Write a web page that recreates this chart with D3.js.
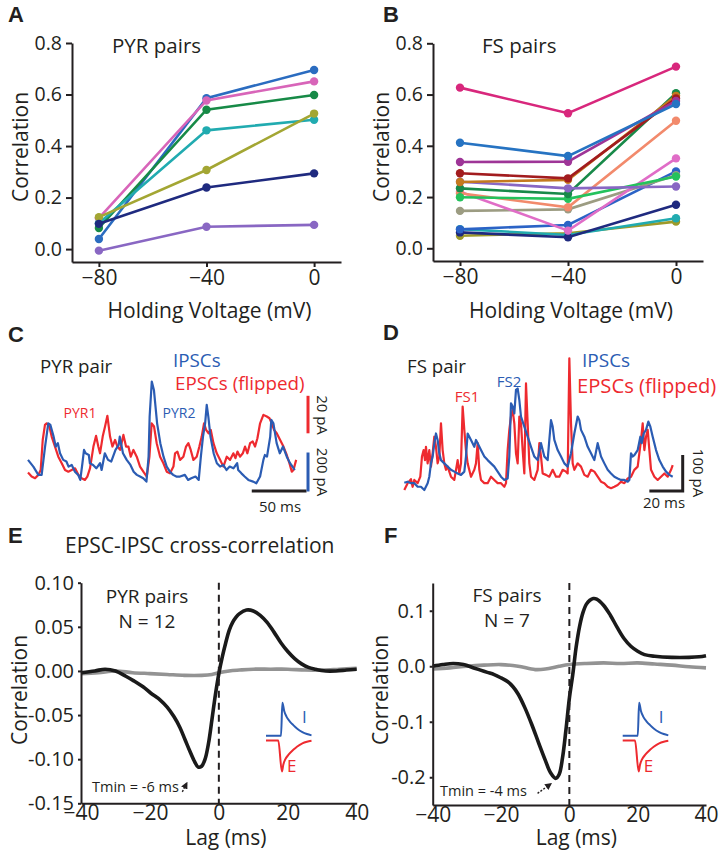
<!DOCTYPE html>
<html><head><meta charset="utf-8">
<script src="https://cdn.jsdelivr.net/npm/d3@7"></script>
<style>body{margin:0;background:#fff}svg{display:block}</style>
</head><body>
<script>
// ---------------- DATA ----------------
const voltages = [-80, -40, 0];
const pyrPairs = [
  [0.039, 0.586, 0.695],
  [0.120, 0.577, 0.651],
  [0.082, 0.541, 0.598],
  [0.100, 0.461, 0.502],
  [0.124, 0.307, 0.526],
  [0.098, 0.239, 0.294],
  [-0.006, 0.087, 0.094]
];
const pyrColors = ["#2b6cc0","#d865b9","#178a47","#21abb0","#a3a633","#1f2a7f","#8967c3"];
const fsPairs = [
  [0.049, 0.059, 0.104],
  [0.075, 0.052, 0.117],
  [0.062, 0.043, 0.170],
  [0.074, 0.091, 0.300],
  [0.146, 0.152, 0.285],
  [0.221, 0.069, 0.351],
  [0.215, 0.160, 0.498],
  [0.199, 0.193, 0.280],
  [0.234, 0.212, 0.605],
  [0.260, 0.234, 0.241],
  [0.259, 0.267, 0.595],
  [0.293, 0.273, 0.585],
  [0.337, 0.338, 0.575],
  [0.412, 0.360, 0.563],
  [0.627, 0.527, 0.709]
];
const fsColors = ["#9d9a2a","#21abb0","#1f2a7f","#2b63c6","#9c9c82","#e06dc7","#f28a6c","#24c25c","#188a49","#8967c3","#c4791f","#a21c1f","#9e3597","#2673c2","#d8277c"];
const corrTicks = [0, 0.2, 0.4, 0.6, 0.8];

// Panel C traces: [time ms, current pA]
const cIPSC = [[0,125],[5,89],[9.7,45],[12.8,45],[16,196],[19,320],[21,311],[24,249],[26,196],[28,214],[30,160],[33,125],[36,116],[38,89],[41,98],[44,62],[47,45],[49,18],[51,107],[52.5,178],[54,160],[57,151],[58,107],[61,98],[64,80],[67.5,107],[69,71],[72,160],[75,125],[78,116],[82,178],[85,205],[86,249],[89,160],[92.5,125],[96,98],[99,62],[102,45],[105,36],[108,27],[111,9],[113,142],[114,356],[116,543],[118,498],[121,320],[124,214],[127,142],[130,89],[133,62],[136,45],[139,36],[142.5,36],[147,45],[150,18],[153,27],[157,36],[160,18],[162,142],[164,249],[166,320],[167.5,418],[169,356],[171,249],[174,160],[177,107],[180,89],[183,98],[186,71],[189,89],[192.5,80],[196,107],[197,71],[200,53],[203,36],[206.5,18],[211,9],[214,0],[217.5,36],[220.6,125],[222,151],[224,142],[225,178],[227,249],[228,338],[230,320],[233,214],[236,160],[239,196],[242.5,142],[245.6,107],[249,80],[250,71]];
const cEPSC = [[0,5.7],[3.4,3.6],[6.6,2.7],[9.7,4.5],[11.9,7.1],[13.8,23.1],[15.9,31.2],[17.5,32.0],[20,30.3],[22.2,24.9],[25.3,19.6],[28.4,14.2],[31.6,10.7],[34.7,7.1],[37.8,6.2],[40.9,7.1],[44.1,8.0],[47.2,4.5],[50.3,2.7],[53.4,1.8],[55.6,3.6],[58.1,8.0],[61.3,19.6],[63.8,25.3],[65.9,19.6],[67.5,16.0],[70,24.9],[72.2,30.3],[74.4,36.0],[76.9,24.9],[79.1,19.6],[81.6,23.1],[83.8,19.6],[86.3,17.8],[89.4,25.8],[91.9,19.6],[94.1,19.6],[96.3,14.2],[98.8,17.8],[101.9,14.2],[105,8.9],[108.1,6.2],[111.3,3.6],[113.8,14.2],[115.9,32.0],[118.1,30.3],[120.6,21.4],[123.8,14.2],[126.9,10.7],[130,6.2],[133.1,5.3],[136.3,8.9],[137.8,16.0],[140,16.9],[142.5,12.5],[145.6,14.2],[148.1,19.6],[150.3,21.4],[152.5,17.8],[155,12.5],[158.1,14.2],[160.6,19.6],[162.8,24.9],[165,32.0],[166.9,28.5],[169.1,26.7],[171.3,28.5],[173.8,21.4],[176.9,16.0],[180,12.5],[183.1,8.9],[186.3,14.2],[189.4,12.5],[192.5,16.0],[194.4,13.4],[196.3,16.9],[198.8,14.2],[201.3,16.0],[203.4,19.6],[205.6,16.0],[208.1,21.4],[210.6,22.3],[212.8,19.6],[215,24.0],[217.5,32.0],[220.6,36.5],[223.8,35.6],[226.3,34.7],[228.4,32.0],[230.6,28.5],[233.1,26.7],[236.3,23.1],[239.4,19.6],[242.5,15.1],[245,10.7],[247.2,6.2],[248.8,7.1],[251.3,12.5]];

// Panel D traces: [time ms, current pA]
const dIPSC = [[0,20],[2,23],[4,19],[6,19],[8,9],[10,9],[12,0],[14,19],[15,37],[16,74],[17,93],[18,130],[19,157],[20,139],[21,102],[22,83],[24,74],[26,65],[28,56],[30,51],[32,46],[34,42],[36,51],[37,93],[38,157],[40,139],[42,120],[43,139],[44,130],[46,111],[48,93],[50,83],[52,74],[54,65],[56,51],[58,37],[60,28],[62,32],[63,93],[64,241],[65,232],[66,213],[67,278],[68,282],[69,250],[70,204],[72,176],[74,148],[76,120],[78,93],[80,83],[82,130],[84,93],[86,83],[87,139],[88,194],[89,176],[90,139],[92,111],[94,93],[96,74],[98,65],[100,102],[102,157],[104,204],[105,194],[106,167],[108,148],[110,120],[112,102],[114,83],[116,130],[118,93],[120,74],[122,56],[124,46],[126,37],[128,32],[130,28],[132,28],[134,23],[135,28],[136,102],[137,93],[138,97],[140,111],[141.6,148],[142.4,130],[143.6,157],[145,167],[146.4,190],[147.6,176],[149,148],[151,111],[153,83],[155,65],[157,51],[159,42],[161,37]];
const dEPSC = [[0,0],[2,19],[4,30],[5,9],[6,28],[8,19],[9.6,37],[10.6,93],[11.6,111],[12.4,83],[13,120],[14,74],[15,111],[16,65],[17,102],[18,148],[19,120],[20,74],[21,93],[22,185],[23,111],[24,74],[25,56],[26,65],[28,37],[30,28],[32,83],[33,46],[34,74],[35,232],[36,167],[37,111],[38,74],[40,37],[42,56],[43,74],[44,130],[45,56],[46,28],[48,19],[50,19],[52,37],[54,28],[56,19],[58,19],[60,9],[61,19],[62,111],[63,167],[64,204],[65,222],[66,185],[67,102],[68,74],[69,204],[70,185],[71,111],[72,46],[73,296],[74,185],[75,74],[76,37],[78,28],[80,56],[81,130],[82,93],[83,46],[85,42],[87,37],[89,56],[91,37],[93,37],[95,56],[97,51],[98,46],[99,366],[100,185],[101,74],[102,56],[104,74],[106,65],[108,42],[110,37],[112,56],[114,51],[116,37],[118,23],[120,19],[122,9],[124,5],[126,9],[128,14],[130,23],[132,19],[134,32],[136,37],[138,56],[140,65],[142,139],[143,185],[144,111],[145,148],[146,167],[147,111],[148,56],[150,37],[152,28],[154,37],[156,46],[158,37],[160,56],[161,69]];

// Panel E / F cross-correlation: [lag ms, correlation]
const pyrXcorr = [[-40,-0.002],[-36,0.0],[-33,0.002],[-30,0.0],[-27,-0.006],[-24.8,-0.011],[-22,-0.018],[-19.8,-0.025],[-17,-0.033],[-15,-0.041],[-13,-0.052],[-11.3,-0.064],[-9.8,-0.078],[-8.4,-0.091],[-7,-0.103],[-6,-0.109],[-5,-0.108],[-4,-0.100],[-3,-0.082],[-2,-0.055],[-1,-0.027],[0,-0.003],[1,0.016],[2,0.032],[3,0.046],[4,0.055],[5,0.061],[6,0.065],[8,0.069],[10,0.068],[12,0.063],[14,0.055],[16,0.044],[18,0.032],[20,0.022],[22,0.014],[24,0.008],[26,0.004],[28,0.002],[31,0.0],[34,0.0],[37,0.001],[40,0.002]];
const pyrShuffled = [[-40,-0.003],[-35,-0.002],[-30,0.0],[-25,-0.002],[-20,-0.003],[-15,-0.004],[-10,-0.005],[-5,-0.005],[-2,-0.004],[0,-0.002],[3,0.0],[6,0.001],[10,0.002],[15,0.002],[20,0.002],[25,0.001],[30,0.001],[35,0.002],[40,0.003]];
const fsXcorr = [[-40,0.0],[-37,0.003],[-34,0.005],[-31,0.003],[-28,-0.003],[-26,-0.007],[-24,-0.011],[-22,-0.015],[-20,-0.021],[-18,-0.028],[-16.5,-0.037],[-15,-0.05],[-13,-0.075],[-11,-0.105],[-9,-0.138],[-7,-0.17],[-5.5,-0.192],[-4,-0.202],[-3,-0.195],[-2,-0.165],[-1,-0.115],[0,-0.058],[1,-0.015],[2,0.035],[3,0.072],[4,0.097],[5,0.112],[6,0.119],[7,0.122],[8,0.121],[10,0.11],[12,0.092],[14,0.07],[16,0.05],[18,0.036],[20,0.027],[22,0.021],[25,0.018],[30,0.016],[35,0.016],[38,0.017],[40,0.019]];
const fsShuffled = [[-40,-0.005],[-35,-0.003],[-30,0.0],[-25,0.002],[-20,0.003],[-15,0.0],[-10,-0.006],[-7,-0.005],[-3,0.0],[0,0.003],[5,0.005],[10,0.006],[15,0.005],[20,0.006],[25,0.004],[30,0.002],[35,-0.001],[40,-0.003]];
const pyrTmin = -6, fsTmin = -4;
const lagTicks = [-40, -20, 0, 20, 40];
const pyrCorrTicks = [-0.15, -0.10, -0.05, 0, 0.05, 0.10];
const fsCorrTicks = [-0.2, -0.1, 0, 0.1];

// inset schematic kernels: [relative time, relative amplitude]
const kernelI = [[0,0],[0.33,0],[0.36,1],[0.40,0.75],[0.45,0.58],[0.53,0.42],[0.60,0.32],[0.68,0.22],[0.80,0.11],[0.90,0.05],[1,0.01]];
const kernelE = [[0,0],[0.27,0],[0.35,-1],[0.38,-0.78],[0.42,-0.62],[0.50,-0.45],[0.60,-0.30],[0.68,-0.20],[0.80,-0.09],[0.90,-0.04],[1,-0.01]];

// ---------------- DRAWING ----------------
const FONT = "'Open Sans', sans-serif";
const INK = "#231f20";
const BLUE = "#2b5cb3";
const RED = "#ee2a2f";
const svg = d3.select("body").append("svg").attr("width", 722).attr("height", 853);
svg.append("rect").attr("width", 722).attr("height", 853).attr("fill", "#fff");

function text(x, y, s, size, opts = {}) {
  const t = svg.append("text").attr("x", x).attr("y", y).text(s)
    .attr("font-family", opts.family || FONT).attr("font-size", size)
    .attr("fill", opts.fill || INK).attr("text-anchor", opts.anchor || "start");
  if (opts.weight) t.attr("font-weight", opts.weight);
  if (opts.rotate) t.attr("transform", `rotate(${opts.rotate},${x},${y})`);
  return t;
}
function styleAxis(g, size) {
  g.attr("font-family", null).attr("font-size", null);
  g.select(".domain").attr("stroke", INK).attr("stroke-width", 2);
  g.selectAll(".tick line").attr("stroke", INK).attr("stroke-width", 2);
  g.selectAll(".tick text").attr("font-family", FONT).attr("font-size", size).attr("fill", INK);
}
const hyph = f => d => f(d).replace("\u2212", "-");

// Panel letters
const LF = "'Liberation Sans', Arial, sans-serif";
text(8, 22, "A", 22, {family: LF, weight: "bold"});
text(383, 22, "B", 22, {family: LF, weight: "bold"});
text(8, 342, "C", 22, {family: LF, weight: "bold"});
text(383, 340, "D", 22, {family: LF, weight: "bold"});
text(8, 543, "E", 22, {family: LF, weight: "bold"});
text(384, 543, "F", 22, {family: LF, weight: "bold"});

// ---- Panels A & B ----
function pairPanel(x0, x1, yBot, yZero, yTop, series, colors, title, titleX, labelX) {
  const x = d3.scaleLinear().domain([-90, 10]).range([x0, x1]);
  const y = d3.scaleLinear().domain([0, 0.8]).range([yZero, yTop]);
  y.domain([y.invert(yBot), 0.8]).range([yBot, yTop]);
  const line = d3.line().x((d, i) => x(voltages[i])).y(d => y(d));
  series.forEach((s, k) => {
    svg.append("path").attr("d", line(s)).attr("fill", "none")
      .attr("stroke", colors[k]).attr("stroke-width", 2.6);
    svg.selectAll(null).data(s).enter().append("circle")
      .attr("cx", (d, i) => x(voltages[i])).attr("cy", d => y(d)).attr("r", 4.2)
      .attr("fill", colors[k]);
  });
  const gy = svg.append("g").attr("transform", `translate(${x0},0)`)
    .call(d3.axisLeft(y).tickValues(corrTicks).tickFormat(d3.format(".1f")).tickSizeInner(6).tickSizeOuter(0).tickPadding(4));
  styleAxis(gy, 19.5);
  const gx = svg.append("g").attr("transform", `translate(0,${yBot})`)
    .call(d3.axisBottom(x).tickValues(voltages).tickSizeInner(5).tickSizeOuter(0).tickPadding(3));
  styleAxis(gx, 21);
  text(titleX, 53, title, 20.5);
  text((x0 + x1) / 2 + 3, 318, "Holding Voltage (mV)", 21, {anchor: "middle"});
  text(labelX, 147, "Correlation", 21, {anchor: "middle", rotate: -90});
}
pairPanel(72, 341, 262, 249.1, 43, pyrPairs, pyrColors, "PYR pairs", 112, 28);
pairPanel(433, 703, 261, 248.3, 43.3, fsPairs, fsColors, "FS pairs", 482, 389);

// ---- Panel C ----
{
  const x = d3.scaleLinear().domain([0, 252]).range([28, 296.9]);
  const yI = d3.scaleLinear().domain([0, 200]).range([483.3, 445.8]);
  const yE = d3.scaleLinear().domain([0, 20]).range([483.3, 445.8]);
  svg.append("path").attr("d", d3.line().x(d => x(d[0])).y(d => yE(d[1]))(cEPSC))
    .attr("fill", "none").attr("stroke", RED).attr("stroke-width", 2.2).attr("stroke-linejoin", "round");
  svg.append("path").attr("d", d3.line().x(d => x(d[0])).y(d => yI(d[1]))(cIPSC))
    .attr("fill", "none").attr("stroke", BLUE).attr("stroke-width", 2.2).attr("stroke-linejoin", "round");
  // scale bars
  const bx = x(259.6);
  svg.append("line").attr("x1", x(209.7)).attr("x2", x(259.6) + 1.5).attr("y1", 491).attr("y2", 491).attr("stroke", INK).attr("stroke-width", 3);
  svg.append("line").attr("x1", bx + 3).attr("x2", bx + 3).attr("y1", 491.5).attr("y2", 491.5 - (yI(0) - yI(200)) - 1.5).attr("stroke", BLUE).attr("stroke-width", 3);
  svg.append("line").attr("x1", bx + 3).attr("x2", bx + 3).attr("y1", 433.3).attr("y2", 433.3 - (yE(0) - yE(20))).attr("stroke", RED).attr("stroke-width", 3);
  text(317, 415, "20 pA", 15, {anchor: "middle", rotate: 90});
  text(317, 472, "200 pA", 15, {anchor: "middle", rotate: 90});
  text(280, 512, "50 ms", 15, {anchor: "middle"});
  text(40, 373, "PYR pair", 18.7);
  text(173, 367, "IPSCs", 18.8, {fill: BLUE});
  text(175, 390, "EPSCs (flipped)", 18.8, {fill: RED});
  text(80, 418, "PYR1", 14, {fill: RED, anchor: "middle"});
  text(179, 418, "PYR2", 14, {fill: BLUE, anchor: "middle"});
}

// ---- Panel D ----
{
  const x = d3.scaleLinear().domain([0, 161]).range([404.3, 672.7]);
  const y = d3.scaleLinear().domain([0, 100]).range([490, 454]);
  svg.append("path").attr("d", d3.line().x(d => x(d[0])).y(d => y(d[1]))(dEPSC))
    .attr("fill", "none").attr("stroke", RED).attr("stroke-width", 2.2).attr("stroke-linejoin", "round");
  svg.append("path").attr("d", d3.line().x(d => x(d[0])).y(d => y(d[1]))(dIPSC))
    .attr("fill", "none").attr("stroke", BLUE).attr("stroke-width", 2.2).attr("stroke-linejoin", "round");
  svg.append("path").attr("d", `M${x(147)},${491}H${x(167)}V${491 - (y(0) - y(100))}`)
    .attr("fill", "none").attr("stroke", INK).attr("stroke-width", 3);
  text(693, 473, "100 pA", 15, {anchor: "middle", rotate: 90});
  text(664, 508, "20 ms", 15, {anchor: "middle"});
  text(407, 373, "FS pair", 18.7);
  text(467, 401.7, "FS1", 15, {fill: RED, anchor: "middle"});
  text(509, 386.7, "FS2", 15, {fill: BLUE, anchor: "middle"});
  text(582, 366.7, "IPSCs", 19, {fill: BLUE});
  text(577, 392.5, "EPSCs (flipped)", 20.2, {fill: RED});
}

// ---- Panels E & F ----
svg.append("defs").append("marker").attr("id", "arr").attr("viewBox", "0 0 10 10")
  .attr("refX", 8).attr("refY", 5).attr("markerWidth", 5).attr("markerHeight", 5).attr("orient", "auto")
  .append("path").attr("d", "M0,0L10,5L0,10z").attr("fill", INK);

function xcorrPanel(o) {
  const x = d3.scaleLinear().domain([-40, 40]).range(o.xr);
  const y = d3.scaleLinear().domain(o.yd).range(o.yr);
  const line = d3.line().x(d => x(d[0])).y(d => y(d[1])).curve(d3.curveCatmullRom);
  svg.append("path").attr("d", line(o.shuf)).attr("fill", "none").attr("stroke", "#939393").attr("stroke-width", 3.6);
  svg.append("path").attr("d", line(o.data)).attr("fill", "none").attr("stroke", "#1a1a1a").attr("stroke-width", 3.6);
  svg.append("line").attr("x1", x(0)).attr("x2", x(0)).attr("y1", o.yr[1]).attr("y2", o.yr[0])
    .attr("stroke", INK).attr("stroke-width", 2).attr("stroke-dasharray", "7,5");
  const gy = svg.append("g").attr("transform", `translate(${o.xr[0]},0)`)
    .call(d3.axisLeft(y).tickValues(o.ticks).tickFormat(hyph(d3.format(o.fmt))).tickSizeInner(3).tickSizeOuter(0).tickPadding(4));
  styleAxis(gy, 20);
  const gx = svg.append("g").attr("transform", `translate(0,${o.yr[0]})`)
    .call(d3.axisBottom(x).tickValues(lagTicks).tickSizeInner(0).tickSizeOuter(0).tickPadding(2));
  styleAxis(gx, 21);
  text((o.xr[0] + o.xr[1]) / 2 + 7, 845, "Lag (ms)", 21, {anchor: "middle"});
  text(o.labelX, 690, "Correlation", 21, {anchor: "middle", rotate: -90});
  text(o.tx, o.ty1, o.t1, 19, {anchor: "middle"});
  text(o.tx, o.ty2, o.t2, 19, {anchor: "middle"});
  text(o.tminX, o.tminY, `Tmin = ${o.tmin} ms`, 14.5);
  svg.append("line").attr("x1", x(o.arrow[0][0])).attr("y1", y(o.arrow[0][1]))
    .attr("x2", x(o.arrow[1][0])).attr("y2", y(o.arrow[1][1]))
    .attr("stroke", INK).attr("stroke-width", 1.4).attr("stroke-dasharray", "2,1.5").attr("marker-end", "url(#arr)");
  // inset schematic
  const ix = d3.scaleLinear().domain([0, 1]).range(o.insetX);
  const iyI = d3.scaleLinear().domain([0, 1]).range([735.7, 702.7]);
  const iyE = d3.scaleLinear().domain([-1, 0]).range([771.5, 740.5]);
  svg.append("path").attr("d", d3.line().x(d => ix(d[0])).y(d => iyI(d[1])).curve(d3.curveMonotoneX)(kernelI))
    .attr("fill", "none").attr("stroke", BLUE).attr("stroke-width", 2);
  svg.append("path").attr("d", d3.line().x(d => ix(d[0])).y(d => iyE(d[1])).curve(d3.curveMonotoneX)(kernelE))
    .attr("fill", "none").attr("stroke", RED).attr("stroke-width", 2);
  text(ix(0.79), 723, "I", 17, {fill: BLUE});
  text(ix(0.46), 771.5, "E", 17, {fill: RED});
}
text(65, 553, "EPSC-IPSC cross-correlation", 21);
xcorrPanel({xr: [81, 356.7], yd: [-0.15, 0.10], yr: [803.3, 582.7], data: pyrXcorr, shuf: pyrShuffled,
  ticks: pyrCorrTicks, fmt: ".2f", labelX: 27, tx: 147, ty1: 603, ty2: 628, t1: "PYR pairs", t2: "N = 12",
  tminX: 92, tminY: 792, tmin: pyrTmin, arrow: [[-10.6, -0.137], [-9.3, -0.127]], insetX: [266, 311.5]});
xcorrPanel({xr: [432.7, 706], yd: [-0.25, 0.15], yr: [805, 583], data: fsXcorr, shuf: fsShuffled,
  ticks: fsCorrTicks, fmt: ".1f", labelX: 388, tx: 507, ty1: 601.5, ty2: 626.5, t1: "FS pairs", t2: "N = 7",
  tminX: 440, tminY: 796, tmin: fsTmin, arrow: [[-9.3, -0.229], [-5.4, -0.212]], insetX: [622.7, 668.3]});
</script>
</body></html>
